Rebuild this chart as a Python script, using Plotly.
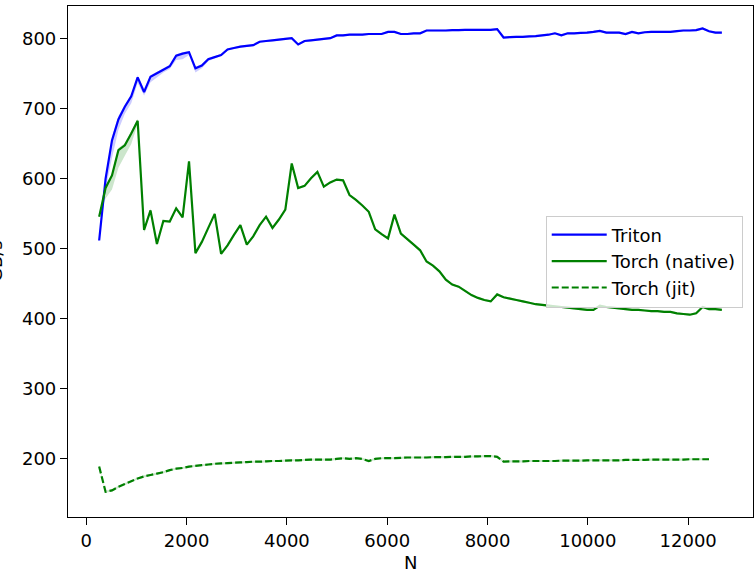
import plotly.graph_objects as go

N = [128 * i for i in range(2, 100)]

triton = [512, 600, 655, 685, 703, 718, 745, 724, 746, 751, 756, 761, 776, 779, 781,
          758, 762, 771, 774, 777, 785, 787, 789, 790, 791, 796, 797, 798, 799, 800,
          801, 792, 797, 798, 799, 800, 801, 805, 805, 806, 806, 806, 807, 807, 807,
          810, 810, 807, 807, 808, 808, 812, 812, 812, 812, 812.5, 812.5, 813, 813, 813,
          813, 813, 814, 802, 802.5, 803, 803, 803.5, 804, 805, 806, 808, 805, 808,
          808, 808.5, 809, 810, 811.5, 809, 809, 809, 807, 810, 808, 809.5, 810, 810,
          810, 810, 811, 812, 812, 812.5, 815, 811, 809, 809]

native = [546, 587, 605, 641, 648, 665, 683, 527, 555, 507, 540, 539, 558, 545, 625,
          494, 510, 530, 550, 493, 505, 520, 534, 506, 518, 534, 546, 530, 542, 556,
          622, 587, 590, 601, 610, 589, 595, 599, 598, 577, 570, 562, 553, 528, 521,
          515, 549, 522, 514, 506, 498, 482, 476, 468, 456, 449, 446, 440, 434, 430,
          427, 425, 435, 431, 429, 427, 425, 423, 421, 420, 419, 418, 417, 416, 415,
          414, 413, 413, 419, 417, 416, 415, 414, 413, 413, 412, 411, 411, 410, 410,
          408, 407, 406, 408, 417, 414, 414, 413]

jit = [189, 153, 155, 160, 164, 168, 172, 175, 177, 179, 181, 184, 186, 187, 189,
       190, 191, 192, 193, 193.5, 194, 194.5, 195, 195.5, 196, 196, 196.5, 197, 197, 197.5,
       198, 198, 198.5, 199, 199, 199, 199, 200, 201, 200, 201, 200, 197, 200, 201,
       201, 201, 201.5, 202, 202, 202, 202, 202.5, 202.5, 202.5, 203, 203, 203, 203.5, 203.5,
       204, 204, 203, 196, 196.5, 196.5, 196.5, 197, 197, 197, 197, 197, 197.5, 197.5,
       197.5, 197.5, 198, 198, 198, 198, 198, 198, 198.5, 198.5, 198.5, 198.5, 199, 199,
       199, 199, 199, 199, 199.5, 199.5, 199.5, 199.5]

# min/max spread (below, above) of the measured samples for the first points
triton_lo_d = [0, 15, 25, 15, 10, 10, 8, 5, 8, 6, 4, 4, 6, 8, 4, 6, 4, 3]
triton_hi_d = [0, 5, 5, 5, 3, 3, 3, 5, 2, 2, 2, 2, 2, 2, 2, 2, 2, 2]
native_lo_d = [0, 15, 20, 25, 15, 15, 5, 4, 3]
native_hi_d = [0, 3, 3, 3, 3, 3, 3, 3, 3]
rest_d = 1.5


def band(vals, lo_d, hi_d):
    lo = [v - (lo_d[k] if k < len(lo_d) else rest_d) for k, v in enumerate(vals)]
    hi = [v + (hi_d[k] if k < len(hi_d) else rest_d) for k, v in enumerate(vals)]
    return lo, hi


fig = go.Figure()

series = [
    ("Triton", triton, "#0000ff", "rgba(0,0,255,0.2)", "solid", triton_lo_d, triton_hi_d),
    ("Torch (native)", native, "#008000", "rgba(0,128,0,0.2)", "solid", native_lo_d, native_hi_d),
    ("Torch (jit)", jit, "#008000", "rgba(0,128,0,0.2)", "7px,3px", [], []),
]

for name, vals, col, fcol, dash, lo_d, hi_d in series:
    lo, hi = band(vals, lo_d, hi_d)
    fig.add_trace(go.Scatter(x=N, y=lo, mode="lines",
                             line=dict(width=0, simplify=False),
                             hoverinfo="skip", showlegend=False))
    fig.add_trace(go.Scatter(x=N, y=hi, mode="lines", fill="tonexty",
                             fillcolor=fcol, line=dict(width=0, simplify=False),
                             hoverinfo="skip", showlegend=False))
for name, vals, col, fcol, dash, lo_d, hi_d in series:
    fig.add_trace(go.Scatter(x=N, y=vals, mode="lines", name=name,
                             line=dict(color=col, width=2.2, dash=dash, simplify=False)))

axis_common = dict(showgrid=False, zeroline=False, showline=True, linecolor="black",
                   linewidth=1.2, mirror=True, ticks="outside", ticklen=7, tickwidth=1.2,
                   tickcolor="black", tickfont=dict(family="DejaVu Sans", size=18, color="black"),
                   automargin=False, tickformat="d")

fig.update_xaxes(range=[-365, 13293], tickvals=[0, 2000, 4000, 6000, 8000, 10000, 12000],
                 **axis_common)
fig.update_yaxes(range=[117, 847], tickvals=[200, 300, 400, 500, 600, 700, 800],
                 **axis_common)

fig.add_annotation(text="N", xref="paper", yref="paper", x=0.5, y=-0.09,
                   showarrow=False, yanchor="middle",
                   font=dict(family="DejaVu Sans", size=18, color="black"))
fig.add_annotation(text="GB/s", xref="paper", yref="paper", x=(8 - 68) / 685, y=0.5,
                   showarrow=False, xanchor="right", textangle=-90,
                   font=dict(family="DejaVu Sans", size=18, color="black"))

fig.update_layout(
    width=754, height=575,
    margin=dict(l=68, r=1, t=6, b=58),
    paper_bgcolor="white", plot_bgcolor="white",
    legend=dict(x=0.985, y=0.5, xanchor="right", yanchor="middle", traceorder="normal",
                bgcolor="rgba(255,255,255,0.8)", bordercolor="#cccccc", borderwidth=1,
                font=dict(family="DejaVu Sans", size=18, color="black"),
                tracegroupgap=0, itemwidth=55),
    showlegend=True,
)

fig.write_html("out.html", config={"displayModeBar": False},
               post_script="document.body.style.margin='0';")
